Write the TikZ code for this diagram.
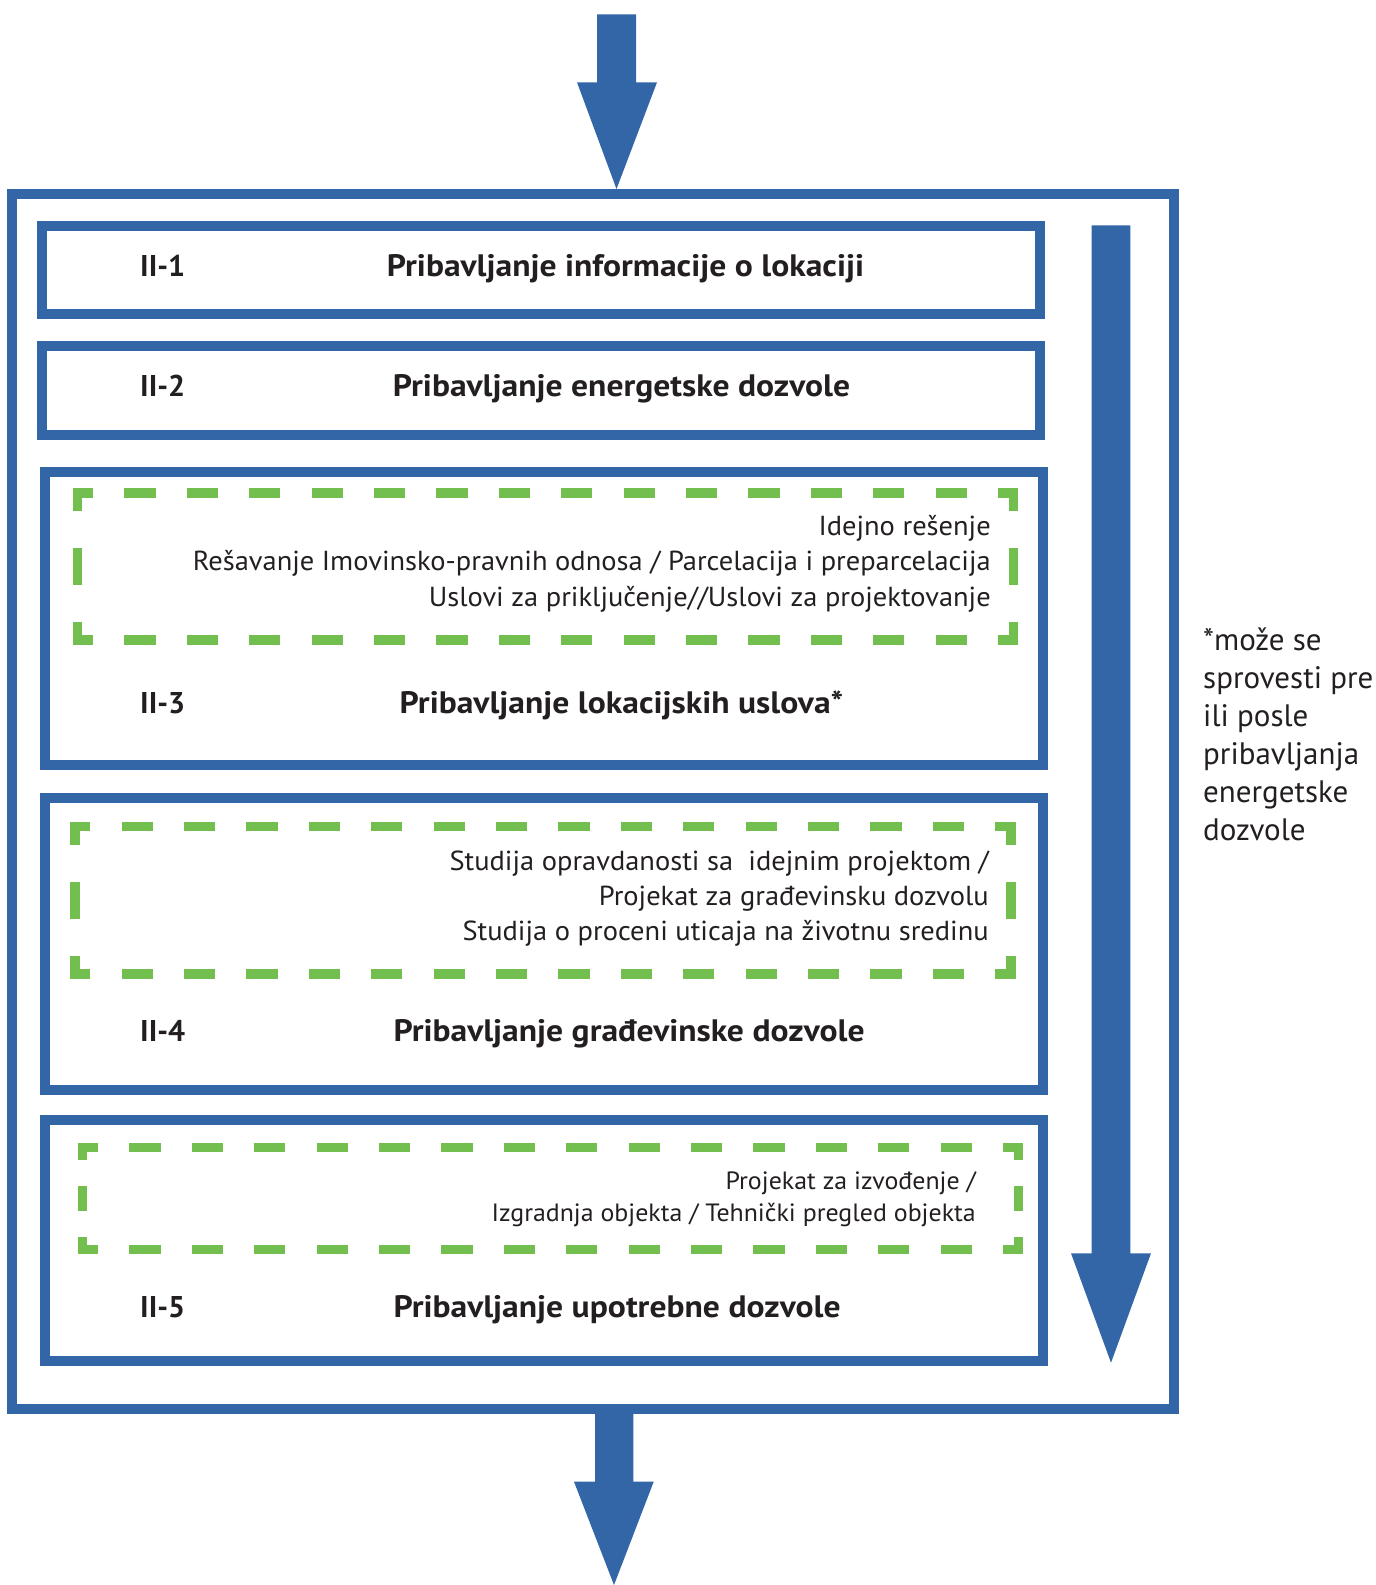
\documentclass[tikz,border=0pt]{standalone}
\usepackage{fontspec}
\setmainfont{PT Sans}
\newfontfamily\titlefam{PT Sans}[FakeStretch=1.084]
\newfontfamily\itemfam{PT Sans}[FakeStretch=1.035]
\definecolor{myblue}{HTML}{3366A6}
\definecolor{mygreen}{HTML}{72BF50}
\definecolor{ink}{HTML}{231F20}
\tikzset{
  bluebox/.style={draw=myblue, line width=10pt, rectangle, inner sep=0pt},
  boxlabel/.style={font=\fontsize{30}{36}\selectfont\bfseries, text=ink, inner sep=0pt, anchor=base west},
  boxtitle/.style={font=\titlefam\fontsize{31}{36}\selectfont\bfseries, text=ink, inner sep=0pt, anchor=base west},
  itemline/.style={font=\itemfam\fontsize{27.5}{33}\selectfont, text=ink, inner sep=0pt, anchor=base east},
  smallitem/.style={font=\itemfam\fontsize{25}{30}\selectfont, text=ink, inner sep=0pt, anchor=base east},
  noteline/.style={font=\fontsize{31}{36}\selectfont, text=ink, inner sep=0pt, anchor=base west},
  bigarrow/.style={fill=myblue, draw=none},
  greendash/.style={draw=mygreen, line width=9.5pt, line cap=butt},
}
\newcommand{\greenframe}[4]{%
  \pgfmathsetmacro\gfdh{(#3-#1)/30}%
  \pgfmathsetmacro\gfhh{(#3-#1)/60}%
  \pgfmathsetmacro\gfdv{(#4-#2)/4}%
  \pgfmathsetmacro\gfhv{(#4-#2)/8}%
  \draw[greendash, dash pattern=on \gfdh pt off \gfdh pt, dash phase=\gfhh pt] (#1,#2) -- (#3,#2);
  \draw[greendash, dash pattern=on \gfdh pt off \gfdh pt, dash phase=\gfhh pt] (#1,#4) -- (#3,#4);
  \draw[greendash, dash pattern=on \gfdv pt off \gfdv pt, dash phase=\gfhv pt] (#1,#2) -- (#1,#4);
  \draw[greendash, dash pattern=on \gfdv pt off \gfdv pt, dash phase=\gfhv pt] (#3,#2) -- (#3,#4);
  \draw[greendash, line join=miter] (#1+\gfhh,#2) -- (#1,#2) -- (#1,#2+\gfhv);
  \draw[greendash, line join=miter] (#3-\gfhh,#2) -- (#3,#2) -- (#3,#2+\gfhv);
  \draw[greendash, line join=miter] (#1+\gfhh,#4) -- (#1,#4) -- (#1,#4-\gfhv);
  \draw[greendash, line join=miter] (#3-\gfhh,#4) -- (#3,#4) -- (#3,#4-\gfhv);
}
\begin{document}
\begin{tikzpicture}[x=1pt,y=-1pt]
\useasboundingbox (0,0) rectangle (1376,1585);

% outer frame and step boxes
\node[bluebox, minimum width=1162pt, minimum height=1215pt] (outer) at (593.3,801.5) {};
\node[bluebox, minimum width=998.3pt, minimum height=88.3pt] (b1) at (540.85,269.85) {};
\node[bluebox, minimum width=998.3pt, minimum height=88.3pt] (b2) at (540.85,390.45) {};
\node[bluebox, minimum width=997.4pt, minimum height=292.7pt] (b3) at (544,618.65) {};
\node[bluebox, minimum width=997.4pt, minimum height=292pt] (b4) at (544,944) {};
\node[bluebox, minimum width=997.4pt, minimum height=241pt] (b5) at (544,1240.5) {};

% green dashed frames
\greenframe{77.5}{493}{1013.5}{640}
\greenframe{74.8}{826.3}{1010.8}{974}
\greenframe{82.5}{1147.5}{1018.5}{1249.5}

% top arrow
\coordinate (ta1) at (597,14.3);
\coordinate (ta2) at (636,14.3);
\coordinate (ta3) at (636,82.3);
\coordinate (ta4) at (657,82.3);
\coordinate (ttip) at (616.5,189);
\coordinate (ta5) at (577,82.3);
\coordinate (ta6) at (597,82.3);
\fill[bigarrow] (ta1) -- (ta2) -- (ta3) -- (ta4) -- (ttip) -- (ta5) -- (ta6) -- cycle;

% bottom arrow
\coordinate (ba1) at (595,1409);
\coordinate (ba2) at (633.3,1409);
\coordinate (ba3) at (633.3,1481.7);
\coordinate (ba4) at (653.7,1481.7);
\coordinate (btip) at (614,1585);
\coordinate (ba5) at (574,1481.7);
\coordinate (ba6) at (595,1481.7);
\fill[bigarrow] (ba1) -- (ba2) -- (ba3) -- (ba4) -- (btip) -- (ba5) -- (ba6) -- cycle;

% right arrow
\coordinate (ra1) at (1091.7,225.3);
\coordinate (ra2) at (1130.3,225.3);
\coordinate (ra3) at (1130.3,1253.3);
\coordinate (ra4) at (1151,1253.3);
\coordinate (rtip) at (1111,1362.7);
\coordinate (ra5) at (1071,1253.3);
\coordinate (ra6) at (1091.7,1253.3);
\fill[bigarrow] (ra1) -- (ra2) -- (ra3) -- (ra4) -- (rtip) -- (ra5) -- (ra6) -- cycle;

% labels and titles
\node[boxlabel] (l1) at (140,276.5) {II-1};
\node[boxtitle] (t1) at (386.7,276) {Pribavljanje informacije o lokaciji};
\node[boxlabel] (l2) at (140,396.7) {II-2};
\node[boxtitle] (t2) at (392.7,396.7) {Pribavljanje energetske dozvole};
\node[boxlabel] (l3) at (140,713.3) {II-3};
\node[boxtitle] (t3) at (399.5,713.3) {Pribavljanje lokacijskih uslova*};
\node[boxlabel] (l4) at (140,1041.8) {II-4};
\node[boxtitle] (t4) at (393.3,1041.8) {Pribavljanje građevinske dozvole};
\node[boxlabel] (l5) at (140,1317.5) {II-5};
\node[boxtitle] (t5) at (393.3,1317.5) {Pribavljanje upotrebne dozvole};

% items in dashed frames
\node[itemline] (i31) at (991,535.5) {Idejno rešenje};
\node[itemline] (i32) at (991,570.7) {Rešavanje Imovinsko-pravnih odnosa / Parcelacija i preparcelacija};
\node[itemline] (i33) at (991,606.7) {Uslovi za priključenje//Uslovi za projektovanje};
\node[itemline] (i41) at (989,870) {Studija opravdanosti sa\ \ idejnim projektom /};
\node[itemline] (i42) at (989,905.5) {Projekat za građevinsku dozvolu};
\node[itemline] (i43) at (989,940.5) {Studija o proceni uticaja na životnu sredinu};
\node[smallitem] (i51) at (976,1189.3) {Projekat za izvođenje /};
\node[smallitem] (i52) at (976,1221) {Izgradnja objekta / Tehnički pregled objekta};

% side note
\node[noteline] (n1) at (1203,650) {*može se};
\node[noteline] (n2) at (1203,688.2) {sprovesti pre};
\node[noteline] (n3) at (1203,726.3) {ili posle};
\node[noteline] (n4) at (1203,764.5) {pribavljanja};
\node[noteline] (n5) at (1203,802.6) {energetske};
\node[noteline] (n6) at (1203,840.8) {dozvole};
\end{tikzpicture}
\end{document}
